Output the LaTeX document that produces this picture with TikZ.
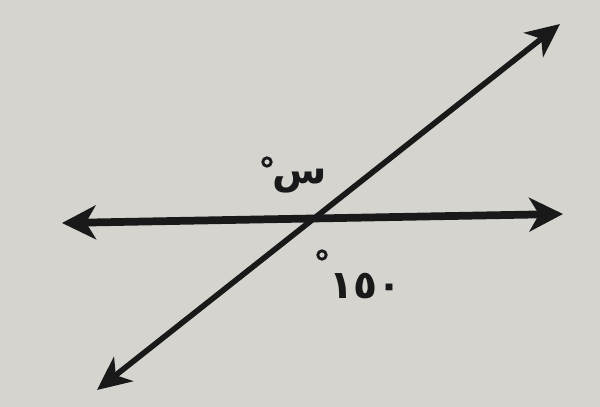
\documentclass[tikz,border=0pt]{standalone}
\usepackage{fontspec}
\usetikzlibrary{arrows.meta}
\TeXXeTstate=1
\newfontfamily\arabicfont[Script=Arabic]{DejaVu Sans}
\definecolor{bg}{RGB}{214,212,207}
\definecolor{ink}{RGB}{25,25,25}
\tikzset{
  lineh/.style={draw=ink, line width=5.5pt, {Stealth[length=24pt,width=24pt,inset=7pt]}-{Stealth[length=24pt,width=24pt,inset=7pt]}},
  lined/.style={draw=ink, line width=4pt, {Stealth[length=24pt,width=22pt,inset=7pt]}-{Stealth[length=24pt,width=22pt,inset=7pt]}},
  lbl/.style={text=ink, inner sep=0pt, font=\arabicfont\bfseries\fontsize{28}{30}\selectfont},
  deg/.style={draw=ink, circle, line width=2pt, minimum size=6pt, inner sep=0pt}
}
\begin{document}
\begin{tikzpicture}[x=0.025cm,y=-0.025cm]
\fill[bg] (0,0) rectangle (600,407);
\useasboundingbox (0,0) rectangle (600,407);
\coordinate (hl) at (62,223);
\coordinate (hr) at (563,214);
\coordinate (dl) at (97,390);
\coordinate (dr) at (560,24);
\draw[lineh] (hl) -- (hr);
\draw[lined] (dl) -- (dr);
\node[lbl] (s) at (300,181) {\beginR س\endR};
\node[deg] (d1) at (267,162) {};
\node[lbl] (n) at (366,286) {١٥٠};
\node[deg] (d2) at (322,255) {};
\end{tikzpicture}
\end{document}
